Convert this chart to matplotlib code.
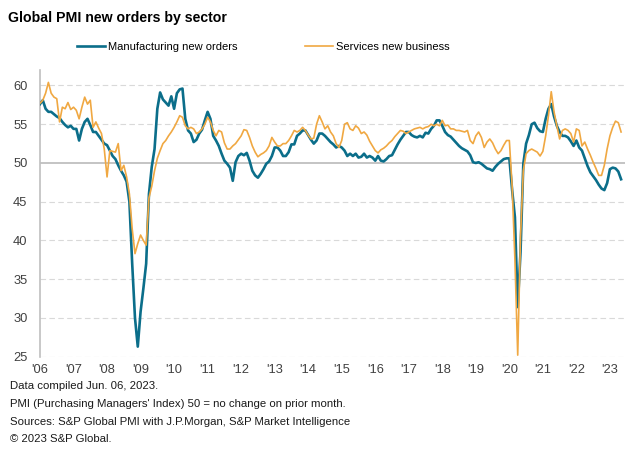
import numpy as np
import matplotlib
matplotlib.use("Agg")
import matplotlib.pyplot as plt

plt.rcParams['font.family'] = ['Liberation Sans', 'DejaVu Sans']

# monthly readings, Jan 2006 .. May 2023
manufacturing = [
    57.6, 58.1, 57.0, 56.6, 56.6, 56.3, 56.0, 55.8, 55.3, 54.9, 54.6, 54.8,  # 2006
    54.4, 54.4, 52.9, 54.4, 55.3, 55.7, 54.9, 54.0, 54.0, 53.5, 53.0, 52.5,  # 2007
    52.3, 51.6, 50.9, 50.5, 49.7, 49.0, 48.4, 47.6, 45.0, 37.0, 30.0, 26.3,  # 2008
    30.8, 33.8, 37.0, 46.0, 49.5, 51.8, 57.0, 59.1, 58.2, 57.8, 57.4, 58.6,  # 2009
    57.0, 59.0, 59.5, 59.6, 55.7, 54.2, 53.8, 52.7, 53.0, 53.8, 54.3, 55.5,  # 2010
    56.6, 55.7, 53.5, 52.9, 52.2, 51.2, 50.3, 49.9, 49.4, 47.7, 50.1, 50.9,  # 2011
    51.2, 51.0, 51.3, 50.3, 49.0, 48.4, 48.1, 48.6, 49.2, 49.9, 50.2, 50.9,  # 2012
    52.0, 52.0, 51.6, 50.9, 50.9, 51.4, 52.4, 52.4, 53.5, 53.8, 54.2, 54.2,  # 2013
    53.6, 53.0, 52.5, 52.9, 53.8, 53.8, 53.5, 53.1, 52.7, 52.4, 52.0, 52.2,  # 2014
    52.0, 51.6, 50.9, 51.2, 50.9, 51.2, 50.7, 50.8, 51.2, 50.7, 50.9, 50.7,  # 2015
    50.3, 50.9, 50.3, 50.2, 50.5, 50.9, 51.0, 51.7, 52.4, 53.0, 53.5, 54.0,  # 2016
    54.0, 53.6, 53.4, 53.3, 53.5, 53.3, 53.9, 53.8, 54.4, 54.8, 55.5, 55.5,  # 2017
    54.8, 54.0, 53.6, 53.4, 53.0, 52.6, 52.2, 51.9, 51.7, 51.5, 51.0, 50.1,  # 2018
    50.0, 50.1, 49.9, 49.6, 49.3, 49.2, 49.0, 49.5, 49.9, 50.2, 50.5, 50.6,  # 2019
    50.6, 46.5, 43.0, 31.4, 38.5, 49.9, 52.5, 53.6, 55.0, 55.2, 54.5, 54.1,  # 2020
    54.0, 55.7, 57.0, 57.6, 56.0, 54.8, 54.0, 53.5, 53.5, 53.3, 52.8, 52.2,  # 2021
    52.9, 52.0, 51.6, 50.6, 49.6, 48.8, 48.3, 47.8, 47.2, 46.7, 46.5, 47.4,  # 2022
    49.2, 49.4, 49.3, 48.9, 47.9,                                            # 2023
]

services = [
    57.7, 58.1, 59.0, 60.4, 59.0, 58.5, 58.3, 55.3, 57.2, 57.0, 57.8, 56.9,  # 2006
    57.2, 56.8, 55.7, 57.2, 58.5, 57.6, 58.1, 54.6, 55.3, 54.5, 53.8, 51.8,  # 2007
    48.2, 51.6, 51.5, 51.4, 52.5, 49.0, 49.7, 48.2, 46.0, 41.5, 38.3, 39.6,  # 2008
    40.7, 40.0, 39.4, 45.5, 47.0, 49.0, 50.6, 51.6, 52.5, 52.9, 53.5, 54.0,  # 2009
    54.6, 55.3, 56.1, 55.9, 54.8, 54.4, 54.6, 54.4, 53.8, 54.0, 54.4, 55.0,  # 2010
    55.9, 55.3, 54.2, 53.5, 54.2, 54.0, 52.6, 51.8, 51.8, 52.2, 52.5, 53.0,  # 2011
    53.5, 54.3, 54.2, 53.3, 52.2, 51.4, 50.8, 51.1, 51.3, 51.6, 52.2, 53.3,  # 2012
    52.7, 52.2, 52.2, 52.5, 52.5, 52.9, 53.5, 54.2, 54.0, 54.2, 54.6, 54.2,  # 2013
    53.6, 53.1, 53.2, 55.0, 56.1, 55.3, 54.4, 54.8, 54.0, 53.5, 52.5, 52.0,  # 2014
    52.9, 55.0, 55.2, 54.4, 54.2, 54.8, 54.5, 53.8, 54.0, 53.6, 52.8, 52.2,  # 2015
    51.6, 51.3, 51.7, 51.9, 52.2, 52.6, 52.9, 53.4, 53.8, 54.2, 54.1, 53.8,  # 2016
    54.0, 54.2, 54.4, 54.5, 54.6, 54.4, 54.6, 54.7, 55.0, 54.8, 55.0, 54.8,  # 2017
    55.5, 54.8, 54.9, 54.4, 54.4, 54.2, 54.2, 54.1, 54.0, 54.2, 52.9, 52.5,  # 2018
    53.5, 54.0, 53.3, 52.0, 52.7, 53.1, 52.6, 51.8, 51.2, 51.6, 52.3, 52.9,  # 2019
    52.9, 47.0, 37.5, 25.2, 40.5, 49.0, 51.2, 51.6, 51.8, 51.6, 51.4, 50.9,  # 2020
    51.5, 53.5, 56.1, 59.2, 56.6, 54.8, 53.1, 54.2, 54.4, 54.2, 53.8, 52.7,  # 2021
    54.4, 54.2, 52.2, 52.7, 51.8, 51.0, 50.1, 49.3, 48.4, 48.4, 49.7, 51.8,  # 2022
    53.5, 54.6, 55.4, 55.2, 54.0,                                            # 2023
]

years = list(range(2006, 2024))
year_labels = ["'" + str(y)[2:] for y in years]
y_ticks = [25, 30, 35, 40, 45, 50, 55, 60]

teal = '#0b6e8a'
orange = '#f0a842'

fig = plt.figure(figsize=(6.34, 4.59), dpi=100)
ax = fig.add_axes([40 / 634, 1 - 356.7 / 459, 585 / 634, 286.7 / 459])

x = np.arange(len(manufacturing))
ax.plot(x, manufacturing, color=teal, lw=1.9, label='Manufacturing new orders', zorder=3)
ax.plot(x, services, color=orange, lw=1.2, label='Services new business', zorder=4)

ax.set_xlim(0, 209.4)
ax.set_ylim(25, 62)

# grid
for v in y_ticks:
    if v == 50:
        ax.axhline(v, color='#bfbfbf', lw=1.3, zorder=1)
    else:
        ax.axhline(v, color='#d9d9d9', lw=0.8, ls=(0, (5, 3)), zorder=1)

ax.set_yticks(y_ticks)
ax.set_xticks([12 * i for i in range(len(years))])
ax.set_xticklabels(year_labels)
ax.tick_params(axis='both', length=0, labelsize=9.3, colors='#404040')
ax.tick_params(axis='y', pad=9)
ax.tick_params(axis='x', pad=5)

for s in ['top', 'right', 'bottom']:
    ax.spines[s].set_visible(False)
ax.spines['left'].set_color('#bfbfbf')
ax.spines['left'].set_linewidth(1.2)

fig.text(8 / 634, 1 - 18 / 459, 'Global PMI new orders by sector',
         fontsize=10.2, fontweight='bold', va='center', ha='left')

fig.legend(loc='center left', bbox_to_anchor=(77 / 634, 1 - 47 / 459), ncol=2,
           frameon=False, fontsize=8.0, handlelength=2.5, handletextpad=0.3,
           columnspacing=6.1, borderaxespad=0, borderpad=0)

notes = [
    'Data compiled Jun. 06, 2023.',
    "PMI (Purchasing Managers' Index) 50 = no change on prior month.",
    'Sources: S&P Global PMI with J.P.Morgan, S&P Market Intelligence',
    '\u00a9 2023 S&P Global.',
]
for k, t in enumerate(notes):
    fig.text(10 / 634, 1 - (386 + 17.8 * k) / 459, t, fontsize=8.2,
             va='center', ha='left', color='#1a1a1a')

fig.savefig('out.png', dpi=100)
